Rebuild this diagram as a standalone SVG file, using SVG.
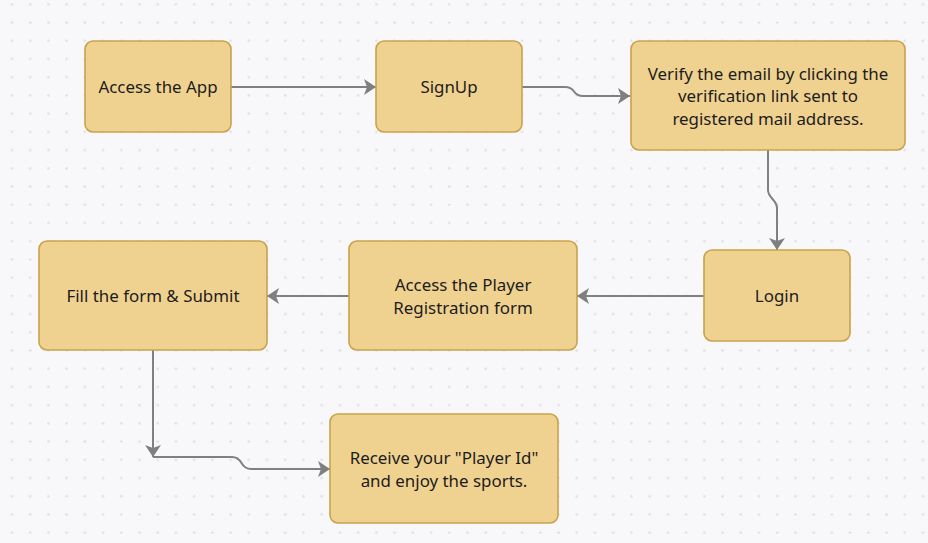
<svg xmlns="http://www.w3.org/2000/svg" width="928" height="543" viewBox="0 0 928 543">
  <defs>
    <pattern id="dots" x="2.89" y="-4.81" width="18.22" height="18.22" patternUnits="userSpaceOnUse">
      <circle cx="9.11" cy="9.11" r="1.2" fill="#dcdce2"/>
    </pattern>
    <marker id="arrow" viewBox="-14 -9 16 18" refX="0" refY="0" markerWidth="16" markerHeight="18" markerUnits="userSpaceOnUse" orient="auto">
      <path d="M0,0 L-12,-8 L-9,0 L-12,8 Z" fill="#7f7f7f"/>
    </marker>
    <style>
      .node rect { fill: #f0d290; stroke: #c9a24e; stroke-width: 1.6; }
      .node text { font-family: "Noto Sans", "Open Sans", sans-serif; font-size: 16.9px; fill: #1c1c1c; text-anchor: middle; }
      .conn path { fill: none; stroke: #808080; stroke-width: 2; marker-end: url(#arrow); }
    </style>
  </defs>
  <rect x="0" y="0" width="928" height="543" fill="#f8f8fa"/>
  <rect x="0" y="0" width="928" height="543" fill="url(#dots)"/>

  <g id="connectors" class="conn">
    <path d="M231,87 H376"/>
    <path d="M522,87 H565 Q571,87 574,91.5 Q577,96 583,96 H630"/>
    <path d="M768,150 V190 Q768,194 772.5,199 Q777,204 777,208 V250"/>
    <path d="M704,296 H577"/>
    <path d="M349,296 H267"/>
    <path d="M153,350 V457"/>
    <path d="M153,457 H232 Q238,457 241.5,463 Q245,469 251,469 H330"/>
  </g>

  <g id="node-access-app" class="node">
    <rect x="85" y="41" width="146" height="91" rx="8"/>
    <text x="158" y="93">Access the App</text>
  </g>
  <g id="node-signup" class="node">
    <rect x="376" y="41" width="146" height="91" rx="8"/>
    <text x="449" y="93">SignUp</text>
  </g>
  <g id="node-verify" class="node">
    <rect x="631" y="41" width="274" height="109" rx="8"/>
    <text x="768" y="79.5">Verify the email by clicking the</text>
    <text x="768" y="102">verification link sent to</text>
    <text x="768" y="124.5">registered mail address.</text>
  </g>
  <g id="node-login" class="node">
    <rect x="704" y="250" width="146" height="91" rx="8"/>
    <text x="777" y="302">Login</text>
  </g>
  <g id="node-player-form" class="node">
    <rect x="349" y="241" width="228" height="109" rx="8"/>
    <text x="463" y="291">Access the Player</text>
    <text x="463" y="313.5">Registration form</text>
  </g>
  <g id="node-fill-form" class="node">
    <rect x="39" y="241" width="228" height="109" rx="8"/>
    <text x="153" y="302">Fill the form &amp; Submit</text>
  </g>
  <g id="node-receive" class="node">
    <rect x="330" y="414" width="228" height="109" rx="8"/>
    <text x="444" y="464">Receive your "Player Id"</text>
    <text x="444" y="486.5">and enjoy the sports.</text>
  </g>
</svg>
